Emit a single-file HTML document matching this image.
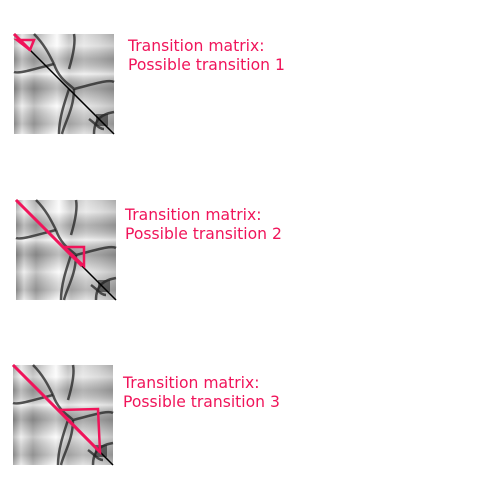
<!DOCTYPE html>
<html><head><meta charset="utf-8"><style>
body{margin:0;background:#fff;width:500px;height:500px;overflow:hidden;font-family:"DejaVu Sans","Liberation Sans",sans-serif}
.lbl{position:absolute;color:#f0145a;font-size:15.6px;line-height:19px}
</style></head><body>
<svg id="s" width="500" height="500" style="position:absolute;left:0;top:0">
<defs>
<linearGradient id="vb" x1="0" x2="1" y1="0" y2="0">
<stop offset="0" stop-color="#9a9a9a"/><stop offset="0.08" stop-color="#e8e8e8"/><stop offset="0.2" stop-color="#aaa"/>
<stop offset="0.3" stop-color="#d0d0d0"/><stop offset="0.43" stop-color="#fafafa"/><stop offset="0.55" stop-color="#bbb"/>
<stop offset="0.7" stop-color="#ddd"/><stop offset="0.85" stop-color="#c8c8c8"/><stop offset="1" stop-color="#aaa"/>
</linearGradient>
<linearGradient id="hb" x1="0" x2="0" y1="0" y2="1">
<stop offset="0" stop-color="#fff" stop-opacity="0"/><stop offset="0.12" stop-color="#fff" stop-opacity="0.4"/><stop offset="0.25" stop-color="#555" stop-opacity="0.3"/>
<stop offset="0.4" stop-color="#fff" stop-opacity="0.6"/><stop offset="0.55" stop-color="#333" stop-opacity="0.3"/>
<stop offset="0.72" stop-color="#fff" stop-opacity="0.3"/><stop offset="0.9" stop-color="#333" stop-opacity="0.2"/><stop offset="1" stop-color="#fff" stop-opacity="0.2"/>
</linearGradient>
</defs>
</svg>
<div class="lbl" style="left:128px;top:37px">Transition matrix:<br>Possible transition 1</div>
<div class="lbl" style="left:125px;top:206px">Transition matrix:<br>Possible transition 2</div>
<div class="lbl" style="left:123px;top:374px">Transition matrix:<br>Possible transition 3</div>
<script>
const origins=[[14,34],[16,200],[13,365]];
const tris=[[[3,6],[20,6],[16,16]],[[48,47],[68,47],[68,66]],[[46,45],[85,44],[87,87]]];
const diagEnd=[16,66,87];
const NS="http://www.w3.org/2000/svg";
const s=document.getElementById('s');
function mk(t,a){const e=document.createElementNS(NS,t);for(const k in a)e.setAttribute(k,a[k]);return e;}
origins.forEach((o,i)=>{
  const g=mk('g',{transform:`translate(${o[0]},${o[1]})`});
  
  
  g.appendChild(mk('rect',{x:0,y:0,width:100,height:100,fill:'url(#vb)'}));
  g.appendChild(mk('rect',{x:0,y:0,width:100,height:100,fill:'url(#hb)'}));
  const curves=["M40,30 C45,45 55,50 60,55 C80,50 95,45 100,48","M40,30 C20,35 5,40 0,38","M55,55 C50,70 45,85 45,100","M60,55 C60,75 50,90 48,100","M80,100 C80,85 88,80 100,78","M20,0 C30,10 35,20 40,30","M60,0 C62,10 58,25 55,35","M75,85 C82,90 85,95 90,95"];
  curves.forEach(d=>g.appendChild(mk('path',{d,fill:'none',stroke:'#222','stroke-width':2.5,'stroke-opacity':0.75})));
  g.appendChild(mk('rect',{x:82,y:80,width:12,height:12,fill:'#222',opacity:0.6}));
  g.appendChild(mk('line',{x1:0,y1:0,x2:100,y2:100,stroke:'#000','stroke-width':1.5}));
  const tr=tris[i],de=diagEnd[i];
  const dl=mk('line',{x1:0,y1:0,x2:de,y2:de,stroke:'#f0145a','stroke-width':3});
  
  
  g.appendChild(dl);
  const p=mk('polygon',{points:tr.map(q=>q.join(',')).join(' '),fill:'none',stroke:'#f0145a','stroke-width':2.5});
  
  
  g.appendChild(p);
  s.appendChild(g);
});
</script>
</body></html>
